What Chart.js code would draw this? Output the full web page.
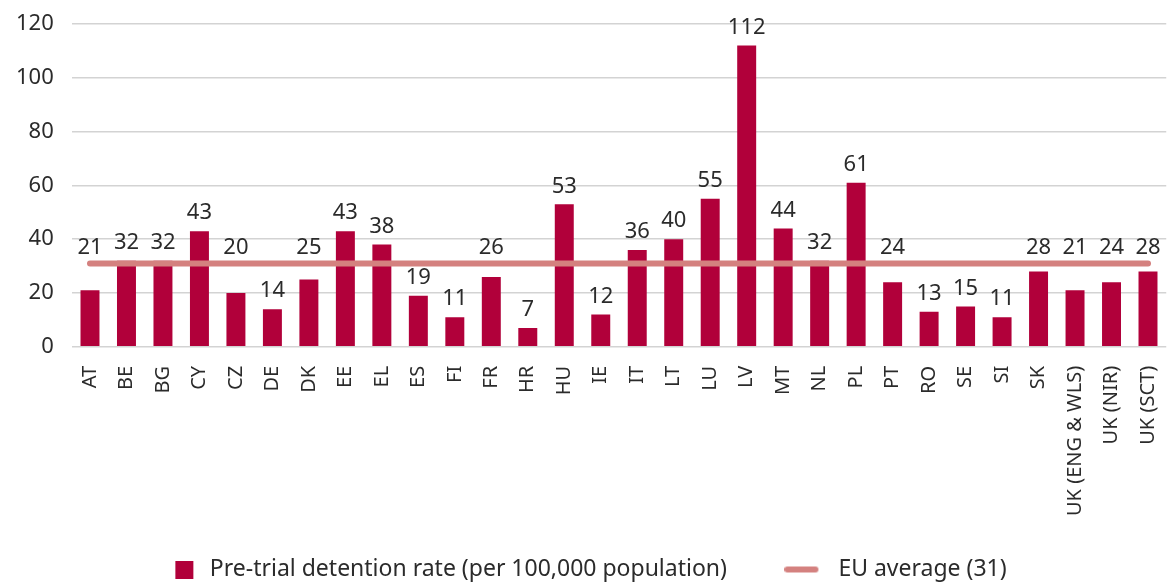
<!DOCTYPE html>
<html>
<head>
<meta charset="utf-8">
<script src="https://cdn.jsdelivr.net/npm/chart.js@4"></script>
<style>
	html, body { margin: 0; padding: 0; background: #fff; }
	#wrap { width: 1168px; height: 583px; }
</style>
</head>
<body>
<div id="wrap"><canvas id="detentionChart"></canvas></div>
<script>
var countries = ["AT", "BE", "BG", "CY", "CZ", "DE", "DK", "EE", "EL", "ES", "FI", "FR", "HR", "HU", "IE",
	"IT", "LT", "LU", "LV", "MT", "NL", "PL", "PT", "RO", "SE", "SI", "SK", "UK (ENG & WLS)", "UK (NIR)", "UK (SCT)"];
var detentionRate = [21, 32, 32, 43, 20, 14, 25, 43, 38, 19, 11, 26, 7, 53, 12,
	36, 40, 55, 112, 44, 32, 61, 24, 13, 15, 11, 28, 21, 24, 28];
var euAverage = 31;
var euLine = countries.map(function () { return euAverage; });
var yTicks = [0, 20, 40, 60, 80, 100, 120];

var color = {
	bar: "#b1003a",
	line: "#d4817f",
	text: "#2b2b2b",
	grid: "#d3d3d3"
};
var fontFamily = "'Noto Sans', sans-serif";
var hidden = "rgba(0,0,0,0)";

// small pictures for the legend markers (drawn centred on a 34px slot)
function legendMarker(kind) {
	var c = document.createElement("canvas");
	var g;
	if (kind === "bar") {
		c.width = 34;
		c.height = 18;
		g = c.getContext("2d");
		g.fillStyle = color.bar;
		g.fillRect(11, 0, 18, 18);
	} else {
		c.width = 51;
		c.height = 8;
		g = c.getContext("2d");
		g.strokeStyle = color.line;
		g.lineWidth = 6;
		g.lineCap = "round";
		g.beginPath();
		g.moveTo(3, 4);
		g.lineTo(31, 4);
		g.stroke();
	}
	return c;
}

// values above the bars, pushed over the EU line when they would sit on it
var barLabels = {
	id: "barLabels",
	afterDatasetsDraw: function (chart) {
		var ctx = chart.ctx;
		var meta = chart.getDatasetMeta(0);
		var lineY = chart.scales.y.getPixelForValue(euAverage);
		ctx.save();
		ctx.font = "22px " + fontFamily;
		ctx.fillStyle = color.text;
		ctx.textAlign = "center";
		ctx.textBaseline = "middle";
		meta.data.forEach(function (bar, i) {
			var y = bar.y - 18;
			if (y - 10 < lineY + 3 && y + 10 > lineY - 3) {
				y = lineY - 16;
			}
			ctx.fillText(String(detentionRate[i]), bar.x, y);
		});
		ctx.restore();
	}
};

var chart = new Chart(document.getElementById("detentionChart"), {
	data: {
		labels: countries,
		datasets: [{
			type: "bar",
			label: "Pre-trial detention rate (per 100,000 population)",
			data: detentionRate,
			backgroundColor: color.bar,
			categoryPercentage: 1,
			barPercentage: 0.52,
			order: 1
		}, {
			type: "line",
			label: "EU average (" + euAverage + ")",
			data: euLine,
			borderColor: color.line,
			backgroundColor: color.line,
			borderWidth: 6,
			borderCapStyle: "round",
			pointRadius: 0,
			order: 0
		}]
	},
	options: {
		responsive: true,
		maintainAspectRatio: false,
		animation: false,
		layout: { padding: { top: 0, left: 3, right: 0, bottom: -8 } },
		scales: {
			x: {
				grid: { display: true, drawOnChartArea: false, drawTicks: true, tickLength: 19, color: hidden },
				border: { display: false },
				ticks: {
					color: color.text,
					font: { size: 20, family: fontFamily, lineHeight: 1 },
					minRotation: 90,
					maxRotation: 90,
					autoSkip: false,
					padding: 0
				}
			},
			y: {
				min: 0,
				max: 120,
				afterBuildTicks: function (axis) {
					axis.ticks = yTicks.map(function (v) { return { value: v }; });
				},
				grid: { color: color.grid, lineWidth: 1.5, drawTicks: true, tickLength: 5, tickColor: hidden },
				border: { display: false },
				ticks: {
					color: color.text,
					font: { size: 22, family: fontFamily, lineHeight: 1 },
					padding: 13
				}
			}
		},
		plugins: {
			tooltip: { enabled: false },
			legend: {
				position: "bottom",
				labels: {
					usePointStyle: true,
					pointStyleWidth: 34,
					boxHeight: 18,
					color: color.text,
					font: { size: 23, family: fontFamily, lineHeight: 1 },
					padding: 42,
					sort: function (a, b) { return a.datasetIndex - b.datasetIndex; },
					generateLabels: function (c) {
						var items = Chart.defaults.plugins.legend.labels.generateLabels(c);
						items.forEach(function (item) {
							if (item.datasetIndex === 0) {
								item.pointStyle = legendMarker("bar");
								item.text = item.text + "    ";
							} else {
								item.pointStyle = legendMarker("line");
							}
						});
						return items;
					}
				}
			}
		}
	},
	plugins: [barLabels]
});
</script>
</body>
</html>
